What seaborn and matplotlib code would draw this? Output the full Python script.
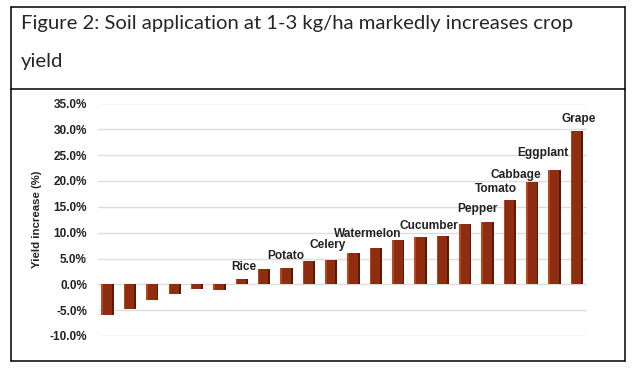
import numpy as np
import pandas as pd
import matplotlib
matplotlib.use("Agg")
import matplotlib.pyplot as plt
import seaborn as sns
from matplotlib.lines import Line2D

# ---------------------------------------
# Data
# ---------------------------------------
crops = ["c1", "c2", "c3", "c4", "c5", "c6", "Rice", "c8", "Potato", "c10",
         "Celery", "c12", "Watermelon", "c14", "c15", "Cucumber", "c17",
         "Pepper", "Tomato", "Cabbage", "Eggplant", "Grape"]
shown = [False] * 6 + [True, False, True, False, True, False, True, False,
                       False, True, False, True, True, True, True, True]
yield_increase = [-5.9, -4.7, -3.0, -1.8, -0.9, -1.0, 1.0, 2.9, 3.1, 4.6,
                  4.75, 6.0, 7.0, 8.5, 9.1, 9.3, 11.7, 12.1, 16.4, 19.9,
                  22.1, 29.6]
y_ticks = [-10, -5, 0, 5, 10, 15, 20, 25, 30, 35]

df = pd.DataFrame({"crop": crops, "value": yield_increase})

# label nudges in pixels (dx, dy) to follow the hand placed labels
label_nudge = {"Rice": (2, 6), "Potato": (-1, 6), "Celery": (-3, 9),
               "Watermelon": (-8, 8), "Cucumber": (-14, 4), "Pepper": (-10, 7),
               "Tomato": (-14, 5), "Cabbage": (-16, 1), "Eggplant": (-12, 11),
               "Grape": (2, 6)}

# ---------------------------------------
# Figure
# ---------------------------------------
sns.set_style("white")
plt.rcParams["font.family"] = ["Liberation Sans", "DejaVu Sans"]

fig = plt.figure(figsize=(6.38, 3.76), dpi=100)
W, H = 638, 376
ax = fig.add_axes([98 / W, 1 - 336 / H, 489 / W, 232.5 / H])

# bevelled bars: dark base bar, main face, light left edge
sns.barplot(data=df, x="crop", y="value", color="#5c1907", width=0.55,
            saturation=1, linewidth=0, ax=ax, zorder=3)
xpos = np.arange(len(crops))
ax.bar(xpos - 0.04, df["value"], width=0.47, color="#8f2d10",
       linewidth=0, zorder=4)
ax.bar(xpos - 0.24, df["value"], width=0.07, color="#b9461c",
       linewidth=0, zorder=5)

ax.set_ylim(-10, 35)
ax.set_xlim(-0.43, len(crops) - 0.55)
ax.set_yticks(y_ticks)
ax.set_yticklabels([f"{t:.1f}%" for t in y_ticks], fontsize=8.5,
                   fontweight="bold", color="#222222")
ax.tick_params(axis="y", length=0, pad=8)
ax.set_xticks([])
ax.set_xlabel("")
ax.set_ylabel("Yield increase (%)", fontsize=8.2, fontweight="bold",
              color="#222222")
ax.yaxis.set_label_coords(-56 / 489, 0.5)
ax.grid(axis="y", color="#dcdcdc", linewidth=1, zorder=0)
for s in ax.spines.values():
    s.set_visible(False)

for i, (name, val, show) in enumerate(zip(crops, yield_increase, shown)):
    if not show:
        continue
    dx, dy = label_nudge[name]
    ax.annotate(name, (i, val), xytext=(dx, dy), textcoords="offset pixels",
                ha="center", va="bottom", fontsize=8.6, fontweight="bold",
                color="#222222", annotation_clip=False, zorder=6)

# title box and chart box
x0, x1 = 11 / W, 625 / W
yt, ym, yb = 1 - 7 / H, 1 - 89 / H, 1 - 361 / H
for xs, ys in [([x0, x1], [yt, yt]), ([x0, x1], [ym, ym]), ([x0, x1], [yb, yb]),
               ([x0, x0], [yb, yt]), ([x1, x1], [yb, yt])]:
    fig.add_artist(Line2D(xs, ys, color="black", linewidth=1.1))

title_font = ["Lato", "DejaVu Sans"]
fig.text(21 / W, 1 - 29 / H,
         "Figure 2: Soil application at 1-3 kg/ha markedly increases crop",
         fontsize=14.6, family=title_font, va="baseline", ha="left")
fig.text(21 / W, 1 - 67 / H, "yield", fontsize=14.6, family=title_font,
         va="baseline", ha="left")

fig.savefig("out.png", dpi=100)
